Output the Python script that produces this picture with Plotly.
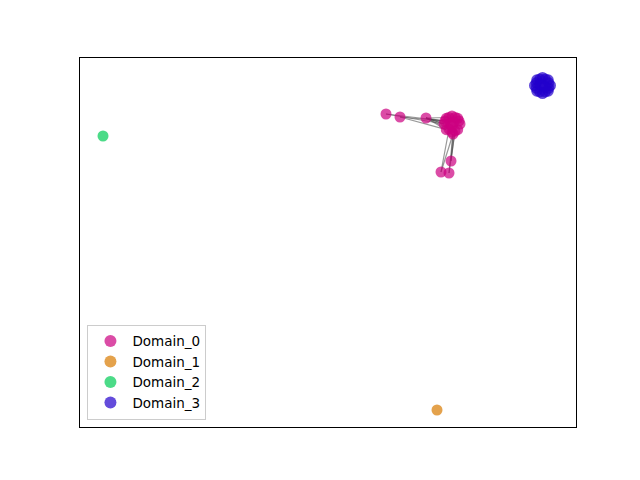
import plotly.graph_objects as go

# Node positions (data units; x 0..496, y 0..369)
d0_x = [306, 320, 346, 371, 361, 369,
        380, 377.7, 372, 366.3, 364, 366.3, 372, 377.7,
        379, 375.1, 368.9, 365, 375, 369, 373, 370, 374, 372]
d0_y = [313, 310, 309, 266, 255, 254,
        303, 308.7, 311, 308.7, 303, 297.3, 295, 297.3,
        306, 309.5, 309.5, 306, 296, 298, 293, 303, 305, 301]
d1_x = [357]
d1_y = [17]
d2_x = [23]
d2_y = [291]
d3_x = [470.5, 468.2, 462.5, 456.8, 454.5, 456.8, 462.5, 468.2,
        468.8, 465.2, 459.8, 456.2, 456.2, 459.8, 465.2, 468.8, 462.5, 460, 465]
d3_y = [341.5, 347.2, 349.5, 347.2, 341.5, 335.8, 333.5, 335.8,
        344.2, 347.9, 347.9, 344.2, 338.8, 335.1, 335.1, 338.8, 341.5, 343, 340]

# Edges as (source index, target index) within Domain_0
edges = [(0, 10), (0, 17), (1, 17), (1, 11), (2, 10), (2, 17), (2, 11), (2, 21),
         (2, 16), (2, 19), (2, 10), (3, 20), (3, 18), (4, 19), (4, 20), (5, 20), (5, 18)]

names = ["Domain_0", "Domain_1", "Domain_2", "Domain_3"]
colors = ["#cc0080", "#d97a00", "#00cc55", "#2200cc"]

fig = go.Figure()

ex, ey = [], []
for a, b in edges:
    ex += [d0_x[a], d0_x[b], None]
    ey += [d0_y[a], d0_y[b], None]
fig.add_trace(go.Scatter(x=ex, y=ey, mode="lines",
                         line=dict(color="rgba(70,70,70,0.55)", width=1.2),
                         showlegend=False, hoverinfo="skip"))

for xs, ys, nm, c in zip([d0_x, d1_x, d2_x, d3_x], [d0_y, d1_y, d2_y, d3_y], names, colors):
    fig.add_trace(go.Scatter(x=xs, y=ys, mode="markers", name=nm,
                             marker=dict(size=11, color=c, opacity=0.7, line=dict(width=0))))

fig.update_layout(
    width=632, height=472,
    margin=dict(l=72, r=64, t=50, b=53),
    paper_bgcolor="white", plot_bgcolor="white",
    font=dict(family="DejaVu Sans", size=13.5, color="black"),
    xaxis=dict(range=[0, 496], showgrid=False, zeroline=False, showticklabels=False,
               ticks="", showline=True, linecolor="black", linewidth=1, mirror=True),
    yaxis=dict(range=[0, 369], showgrid=False, zeroline=False, showticklabels=False,
               ticks="", showline=True, linecolor="black", linewidth=1, mirror=True),
    legend=dict(x=0.015, y=0.02, xanchor="left", yanchor="bottom",
                bgcolor="rgba(255,255,255,0.8)", bordercolor="#cccccc", borderwidth=1,
                font=dict(size=13.5), itemsizing="constant", itemwidth=34,
                tracegroupgap=0),
)

fig.write_html("out.html")
